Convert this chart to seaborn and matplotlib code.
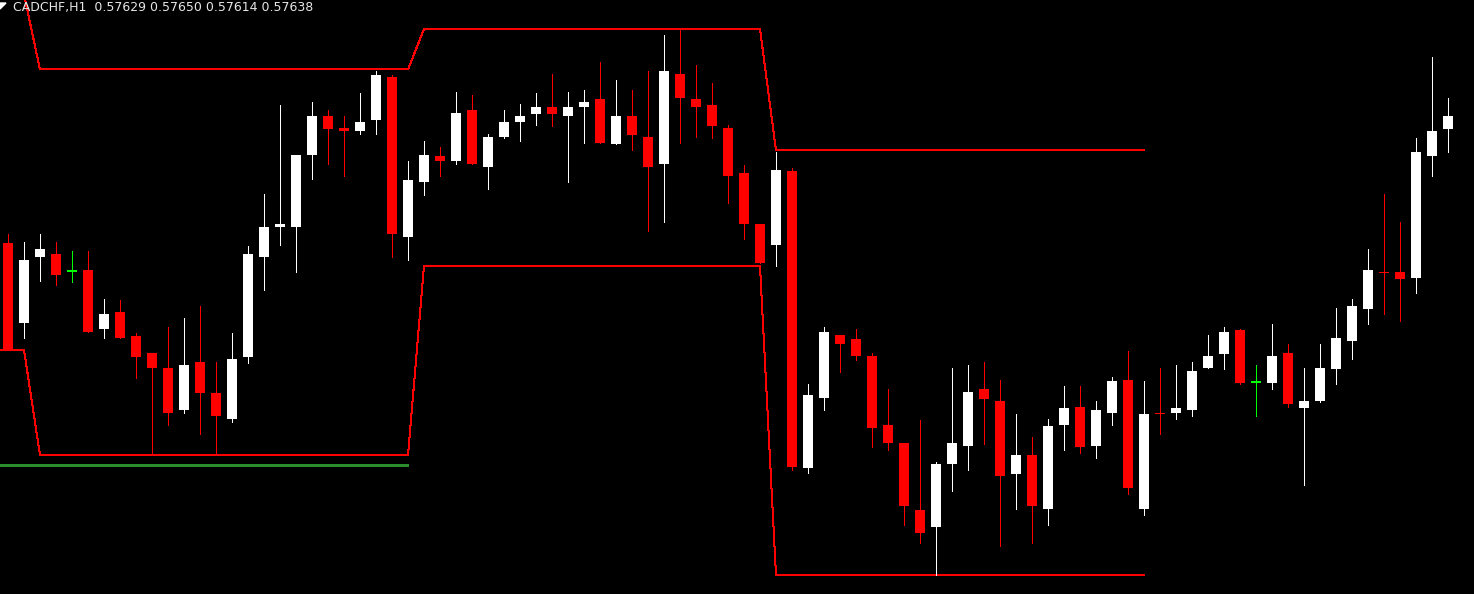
import numpy as np
import pandas as pd
import matplotlib
matplotlib.use("Agg")
import matplotlib.pyplot as plt
import seaborn as sns
from matplotlib.patches import Polygon

# ==================== DATOS ====================
SYMBOL = "CADCHF,H1"

opens = [0.57553, 0.57500, 0.57544, 0.57546, 0.57534, 0.57535, 0.57496, 0.57507, 0.57491, 0.57480,
         0.57470, 0.57442, 0.57474, 0.57453, 0.57436, 0.57477, 0.57544, 0.57564, 0.57564, 0.57612,
         0.57638, 0.57630, 0.57628, 0.57635, 0.57664, 0.57557, 0.57594, 0.57611, 0.57608, 0.57642,
         0.57604, 0.57624, 0.57634, 0.57639, 0.57644, 0.57638, 0.57644, 0.57649, 0.57619, 0.57638,
         0.57624, 0.57606, 0.57666, 0.57649, 0.57645, 0.57630, 0.57600, 0.57566, 0.57552, 0.57601,
         0.57403, 0.57450, 0.57492, 0.57489, 0.57478, 0.57432, 0.57420, 0.57375, 0.57364, 0.57406,
         0.57418, 0.57456, 0.57448, 0.57399, 0.57412, 0.57376, 0.57432, 0.57444, 0.57418, 0.57440,
         0.57462, 0.57376, 0.57440, 0.57440, 0.57442, 0.57470, 0.57479, 0.57495, 0.57460, 0.57460,
         0.57480, 0.57443, 0.57448, 0.57469, 0.57488, 0.57509, 0.57534, 0.57534, 0.57530, 0.57611,
         0.57629]

highs = [0.57559, 0.57554, 0.57559, 0.57554, 0.57548, 0.57548, 0.57516, 0.57515, 0.57493, 0.57480,
         0.57497, 0.57503, 0.57511, 0.57474, 0.57493, 0.57551, 0.57586, 0.57645, 0.57612, 0.57647,
         0.57642, 0.57638, 0.57653, 0.57668, 0.57665, 0.57608, 0.57621, 0.57617, 0.57654, 0.57652,
         0.57626, 0.57642, 0.57646, 0.57653, 0.57666, 0.57654, 0.57655, 0.57674, 0.57662, 0.57655,
         0.57668, 0.57692, 0.57696, 0.57672, 0.57660, 0.57632, 0.57605, 0.57566, 0.57614, 0.57603,
         0.57459, 0.57497, 0.57492, 0.57496, 0.57480, 0.57456, 0.57420, 0.57435, 0.57407, 0.57470,
         0.57472, 0.57474, 0.57462, 0.57439, 0.57424, 0.57436, 0.57458, 0.57458, 0.57448, 0.57464,
         0.57481, 0.57461, 0.57470, 0.57472, 0.57474, 0.57492, 0.57497, 0.57496, 0.57472, 0.57499,
         0.57486, 0.57470, 0.57486, 0.57510, 0.57516, 0.57549, 0.57586, 0.57567, 0.57623, 0.57677,
         0.57650]

lows = [0.57482, 0.57490, 0.57528, 0.57525, 0.57527, 0.57494, 0.57490, 0.57490, 0.57463, 0.57413,
        0.57432, 0.57440, 0.57426, 0.57412, 0.57434, 0.57473, 0.57522, 0.57552, 0.57534, 0.57596,
        0.57606, 0.57598, 0.57626, 0.57626, 0.57544, 0.57542, 0.57585, 0.57598, 0.57606, 0.57606,
        0.57589, 0.57623, 0.57621, 0.57632, 0.57631, 0.57594, 0.57620, 0.57620, 0.57619, 0.57615,
        0.57561, 0.57567, 0.57620, 0.57624, 0.57623, 0.57580, 0.57556, 0.57540, 0.57538, 0.57402,
        0.57400, 0.57442, 0.57467, 0.57475, 0.57417, 0.57415, 0.57365, 0.57353, 0.57332, 0.57388,
        0.57402, 0.57419, 0.57351, 0.57376, 0.57353, 0.57365, 0.57415, 0.57413, 0.57410, 0.57432,
        0.57386, 0.57372, 0.57426, 0.57436, 0.57438, 0.57470, 0.57469, 0.57459, 0.57438, 0.57456,
        0.57444, 0.57392, 0.57447, 0.57459, 0.57476, 0.57499, 0.57506, 0.57501, 0.57520, 0.57598,
        0.57614]

closes = [0.57482, 0.57542, 0.57549, 0.57532, 0.57534, 0.57494, 0.57506, 0.57490, 0.57477, 0.57470,
          0.57440, 0.57472, 0.57453, 0.57438, 0.57476, 0.57546, 0.57564, 0.57566, 0.57612, 0.57638,
          0.57629, 0.57628, 0.57634, 0.57665, 0.57559, 0.57595, 0.57612, 0.57608, 0.57640, 0.57606,
          0.57624, 0.57634, 0.57638, 0.57644, 0.57639, 0.57644, 0.57647, 0.57620, 0.57638, 0.57625,
          0.57604, 0.57668, 0.57650, 0.57644, 0.57631, 0.57598, 0.57566, 0.57540, 0.57602, 0.57404,
          0.57452, 0.57494, 0.57486, 0.57478, 0.57430, 0.57420, 0.57378, 0.57360, 0.57406, 0.57420,
          0.57454, 0.57449, 0.57398, 0.57412, 0.57378, 0.57431, 0.57443, 0.57417, 0.57442, 0.57461,
          0.57390, 0.57439, 0.57439, 0.57443, 0.57468, 0.57478, 0.57494, 0.57460, 0.57460, 0.57478,
          0.57446, 0.57448, 0.57470, 0.57490, 0.57511, 0.57535, 0.57533, 0.57529, 0.57614, 0.57628,
          0.57638]

# canal de precios (maximo / minimo de cada dia), empieza una barra antes de la primera vela
channel_upper = [0.57719] * 3 + [0.57669] * 24 + [0.57696] * 22 + [0.57615] * 24
channel_lower = [0.57482] * 3 + [0.57412] * 24 + [0.57538] * 22 + [0.57332] * 24
prev_level = 0.57405      # linea verde del dia anterior
prev_level_end = 25       # hasta que vela llega
# ================================================

BG = "black"
UP, DOWN, DOJI = "#ffffff", "#ff0000", "#00ff00"
MIN_BODY = 0.00001


def candles_df():
    df = pd.DataFrame({"open": opens, "high": highs, "low": lows, "close": closes})
    df["bar"] = np.arange(len(df))
    df["color"] = np.where(df.close > df.open, UP, np.where(df.close < df.open, DOWN, DOJI))
    df["bottom"] = df[["open", "close"]].min(axis=1)
    df["height"] = (df.close - df.open).abs().clip(lower=MIN_BODY)
    return df


def main():
    sns.set_theme(style="dark", rc={"axes.facecolor": BG, "figure.facecolor": BG})
    fig = plt.figure(figsize=(14.74, 5.94), dpi=100)
    ax = fig.add_axes([0, 0, 1, 1])
    ax.set_facecolor(BG)

    df = candles_df()

    # canal
    ch = pd.DataFrame({"bar": np.arange(-1, len(channel_upper) - 1),
                       "upper": channel_upper, "lower": channel_lower})
    sns.lineplot(data=ch, x="bar", y="upper", color="#ff0000", lw=0.72, ax=ax, antialiased=False)
    sns.lineplot(data=ch, x="bar", y="lower", color="#ff0000", lw=0.72, ax=ax, antialiased=False)
    ax.hlines(prev_level, -1, prev_level_end, colors="#2a8c2a", lw=0.9, antialiased=False)

    # velas
    ax.vlines(df.bar, df.low, df.high, colors=df.color, lw=0.72, antialiased=False)
    ax.bar(df.bar, df.height, bottom=df.bottom, width=0.66, color=df.color,
           linewidth=0, antialiased=False)

    ax.set_xlim(-0.5, 91.625)
    ax.set_ylim(0.5731933, 0.5771533)
    ax.set_xlabel(""); ax.set_ylabel("")
    ax.set_xticks([]); ax.set_yticks([])
    for s in ax.spines.values():
        s.set_visible(False)

    # encabezado tipo MT4
    last = df.iloc[-1]
    label = f"{SYMBOL}  {last.open:.5f} {last.high:.5f} {last.low:.5f} {last.close:.5f}"
    fig.text(13 / 1474, 1 - 7 / 594, label, color="#e6e6e6", fontsize=9,
             family="DejaVu Sans", va="center", ha="left")
    tri = Polygon([[0, 594 - 3], [6, 594 - 3], [0, 594 - 9]], closed=True,
                  transform=None, color="white")
    fig.patches.append(tri)

    fig.savefig("out.png", dpi=100, facecolor=BG)
    plt.close(fig)


if __name__ == "__main__":
    main()
